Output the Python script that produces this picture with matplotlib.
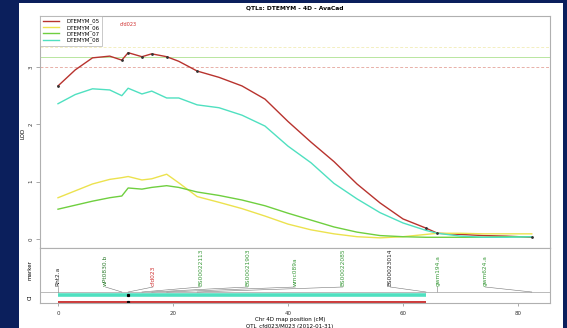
import numpy as np
import matplotlib
matplotlib.use("Agg")
import matplotlib.pyplot as plt
from matplotlib.patches import Rectangle

# map positions (cM) where LOD values were read
pos = [0, 3, 6, 9, 11.1, 12.2, 14.6, 16.3, 18.9, 21, 24.2, 28, 32, 36, 40, 44,
       48, 52, 56, 60, 64.0, 66.0, 70, 74, 78, 82.4]

lod_05 = [2.67, 2.95, 3.16, 3.19, 3.12, 3.25, 3.18, 3.23, 3.18, 3.10, 2.93, 2.82,
          2.67, 2.44, 2.05, 1.69, 1.35, 0.96, 0.63, 0.35, 0.19, 0.10, 0.08, 0.06,
          0.05, 0.03]
lod_06 = [0.72, 0.84, 0.96, 1.04, 1.07, 1.09, 1.03, 1.05, 1.13, 0.98, 0.74, 0.64,
          0.53, 0.40, 0.26, 0.16, 0.09, 0.04, 0.02, 0.04, 0.08, 0.10, 0.10, 0.09,
          0.09, 0.09]
lod_07 = [0.52, 0.59, 0.66, 0.72, 0.75, 0.89, 0.87, 0.90, 0.93, 0.90, 0.82, 0.76,
          0.68, 0.58, 0.45, 0.33, 0.21, 0.12, 0.06, 0.04, 0.03, 0.03, 0.03, 0.03,
          0.04, 0.04]
lod_08 = [2.36, 2.52, 2.62, 2.60, 2.50, 2.63, 2.53, 2.58, 2.46, 2.46, 2.34, 2.29,
          2.16, 1.97, 1.62, 1.33, 0.97, 0.70, 0.46, 0.28, 0.15, 0.10, 0.05, 0.03,
          0.03, 0.04]

series_names = ["DTEMYM_05", "DTEMYM_06", "DTEMYM_07", "DTEMYM_08"]
series_colors = ["#b8332e", "#ece24e", "#6fcf3f", "#4fe0c0"]

thresholds = [3.35, 3.17, 3.0]
threshold_colors = ["#f3efc0", "#b8e6a0", "#e8b0a8"]

marker_names = ["Rht2.a", "wPt0830.b", "cfd023", "BS00022113", "BS00021903",
                "wmc089a", "BS00022085", "BS00023014", "gwm194.a", "gwm624.a"]
marker_pos = [0, 11.1, 12.2, 14.6, 16.3, 18.9, 24.2, 64.0, 66.0, 82.4]
marker_colors = ["#222222", "#2e7d2e", "#d03030", "#3a9a3a", "#3a9a3a",
                 "#3a9a3a", "#3a9a3a", "#222222", "#3a9a3a", "#3a9a3a"]

peak_pos = 12.2
peak_name = "cfd023"
ci_lo, ci_hi = 0.0, 64.0

W, H = 567, 328
fig = plt.figure(figsize=(W / 100, H / 100), dpi=100, facecolor="#0b1f5c")
fig.patches.append(Rectangle((19 / W, 0), (563 - 19) / W, 1 - 3 / H,
                             transform=fig.transFigure, facecolor="white",
                             edgecolor="none", zorder=-10))

def frac(x0, y0, x1, y1):
    return [x0 / W, 1 - y1 / H, (x1 - x0) / W, (y1 - y0) / H]

ax = fig.add_axes(frac(40, 16, 550, 248))
ax2 = fig.add_axes(frac(40, 248, 550, 303))
xlim = (-3.13, 85.57)

for a in (ax, ax2):
    a.set_facecolor("white")
    for s in a.spines.values():
        s.set_color("#b0b0b0")
        s.set_linewidth(0.8)

# LOD curves
for y, name, c in zip([lod_05, lod_06, lod_07, lod_08], series_names, series_colors):
    ax.plot(pos, y, color=c, lw=1.0, label=name, zorder=3)
idx = [pos.index(m) for m in marker_pos]
ax.plot([pos[i] for i in idx], [lod_05[i] for i in idx], "o", color="#333333",
        ms=1.0, zorder=4)

for t, c in zip(thresholds, threshold_colors):
    ax.axhline(t, color=c, lw=0.7, ls=(0, (3, 2)) if c != "#b8e6a0" else "-", zorder=1)

ax.text(peak_pos, 3.75, peak_name, color="#d03030", fontsize=3.6, ha="center", va="center")

ax.set_xlim(*xlim)
ax.set_ylim(-0.157, 3.89)
ax.set_xticks([])
ax.set_yticks([0, 1, 2, 3])
ax.set_yticklabels(["0", "1", "2", "3"], rotation=90, va="center")
ax.tick_params(axis="y", length=3, width=0.5, colors="#888888", labelsize=4,
               labelcolor="#333333", pad=1.5)

leg = ax.legend(loc="upper left", fontsize=4, frameon=True, fancybox=False,
                borderaxespad=0, handlelength=3.0, handletextpad=1.2,
                borderpad=0.5, labelspacing=0.1)
leg.get_frame().set_edgecolor("#b0b0b0")
leg.get_frame().set_linewidth(0.6)

fig.text(23 / W, 1 - 133 / H, "LOD", rotation=90, fontsize=4, ha="center", va="center")
fig.text(295 / W, 1 - 8 / H, "QTLs: DTEMYM - 4D - AvaCad", fontsize=4.3,
         fontweight="bold", ha="center", va="center")

# marker / CI panel
ax2.set_xlim(*xlim)
ax2.set_ylim(0, 55)
ax2.axhline(11, color="#b0b0b0", lw=0.6)
label_x = np.linspace(0, 74.3, len(marker_names))
for lx, mp, name, c in zip(label_x, marker_pos, marker_names, marker_colors):
    ax2.text(lx, 16.5, name, rotation=90, fontsize=4.2, color=c,
             ha="center", va="bottom")
    ax2.plot([lx, mp], [16, 11], color="#777777", lw=0.4)

ax2.plot([ci_lo, ci_hi], [8.5, 8.5], color=series_colors[3], lw=2.6, solid_capstyle="butt")
ax2.plot([ci_lo, ci_hi], [1.5, 1.5], color="#c82828", lw=1.3, solid_capstyle="butt")
ax2.plot([peak_pos, peak_pos], [8.5, 1.5], "s", color="black", ms=1.3)

ax2.set_yticks([])
ax2.set_xticks([0, 20, 40, 60, 80])
ax2.tick_params(axis="x", length=2.5, width=0.5, colors="#888888", labelsize=4,
                labelcolor="#333333", pad=3)

fig.text(30 / W, 1 - 270 / H, "marker", rotation=90, fontsize=4, ha="center", va="center")
fig.text(30 / W, 1 - 297 / H, "CI", rotation=90, fontsize=4, ha="center", va="center")
fig.text(290 / W, 1 - 319 / H, "Chr 4D map position (cM)", fontsize=4, ha="center", va="center")
fig.text(290 / W, 1 - 326 / H, "QTL_cfd023/M023 (2012-01-31)", fontsize=4,
         ha="center", va="center")

fig.savefig("out.png", dpi=100, facecolor=fig.get_facecolor())
